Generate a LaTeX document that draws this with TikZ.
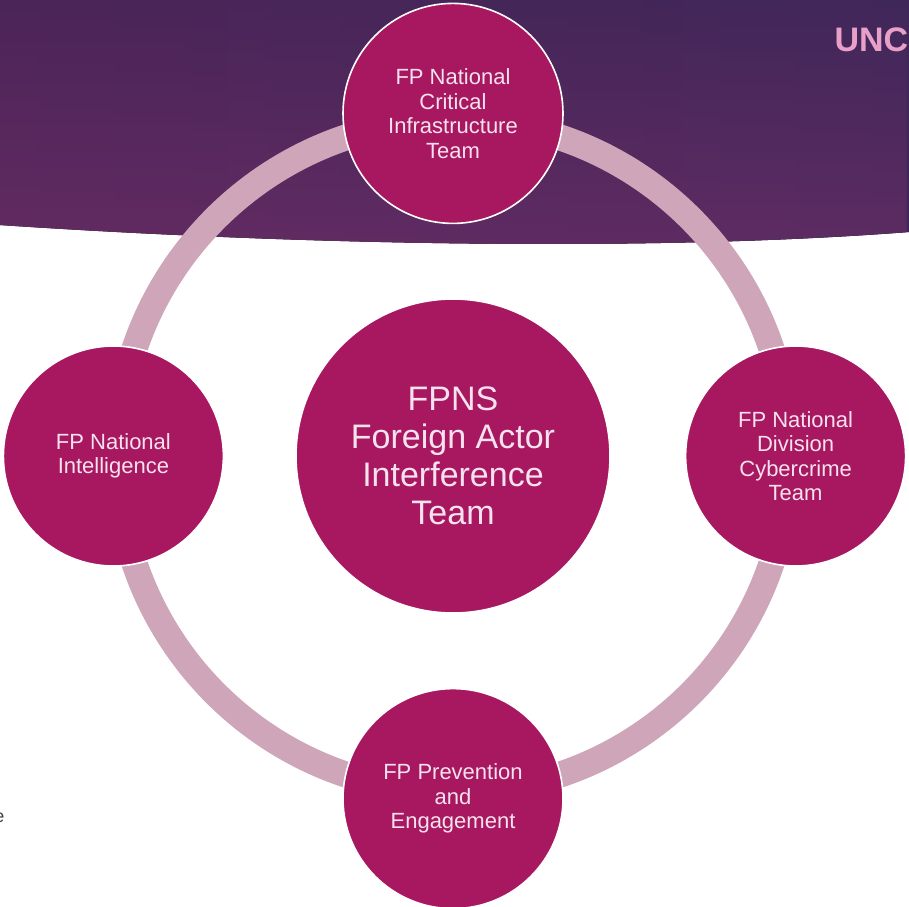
\documentclass[tikz,border=0pt]{standalone}
\usepackage{fontspec}
\setmainfont{Liberation Sans}
\usetikzlibrary{positioning,backgrounds,fadings}
\definecolor{fpteam}{RGB}{168,24,96}
\definecolor{fptext}{RGB}{246,226,238}
\definecolor{fpring}{RGB}{207,166,185}
\definecolor{fpbanl}{RGB}{76,37,88}
\definecolor{fpbanm}{RGB}{96,42,98}
\definecolor{fpbanr}{RGB}{64,39,90}
\definecolor{fpglow}{RGB}{118,48,106}
\definecolor{fpbadge}{RGB}{232,160,200}
\tikzset{
  fp/.style={font=\fontsize{22}{24.5}\selectfont, text=fptext},
  fpteam/.style={
    fp, circle, draw=white, line width=1.6pt, fill=fpteam,
    align=center, inner sep=0pt, minimum size=220pt
  },
  fpcore/.style={fpteam, minimum size=314pt, font=\fontsize{34}{38}\selectfont},
  fpringline/.style={draw=fpring, line width=26pt},
  fpbadgetxt/.style={font=\bfseries\fontsize{34}{36}\selectfont, text=fpbadge},
}

\begin{document}
\begin{tikzpicture}[x=1pt, y=-1pt]
    \useasboundingbox (0,0) rectangle (909,906);
    \clip (0,0) rectangle (909,906);

    % Equipo central
    \node[fpcore] (core) at (453,456) {FPNS\\Foreign Actor\\Interference\\Team};

    % Equipos alrededor
    \node[fpteam, above=74pt of core] (infra) {FP National\\Critical\\Infrastructure\\Team};
    \node[fpteam, left=71pt of core] (intel) {FP National\\Intelligence};
    \node[fpteam, right=74pt of core] (cyber) {FP National\\Division\\Cybercrime\\Team};
    \node[fpteam, below=74pt of core] (prev) {FP Prevention\\and\\Engagement};

    % Cabecera y textos sueltos
    \node[fpbadgetxt, anchor=base west] (badge) at (831,51) {UNCLASSIFIED};
    \node[font=\fontsize{18}{20}\selectfont, text=black!75, anchor=base east] (pie) at (8,822) {e};

    % Fondo: banda superior y anillo
    \begin{scope}[on background layer]
      \fill[left color=fpbanl, middle color=fpbanm, right color=fpbanr]
        (0,0) -- (909,0) -- (909,232) .. controls (650,252) and (300,245) .. (0,225) -- cycle;
      \fill[fpglow, opacity=.55, path fading=north]
        (0,0) -- (909,0) -- (909,232) .. controls (650,252) and (300,245) .. (0,225) -- cycle;
      \draw[fpringline] (core.center) circle[radius=336pt];
    \end{scope}
  \end{tikzpicture}
\end{document}
